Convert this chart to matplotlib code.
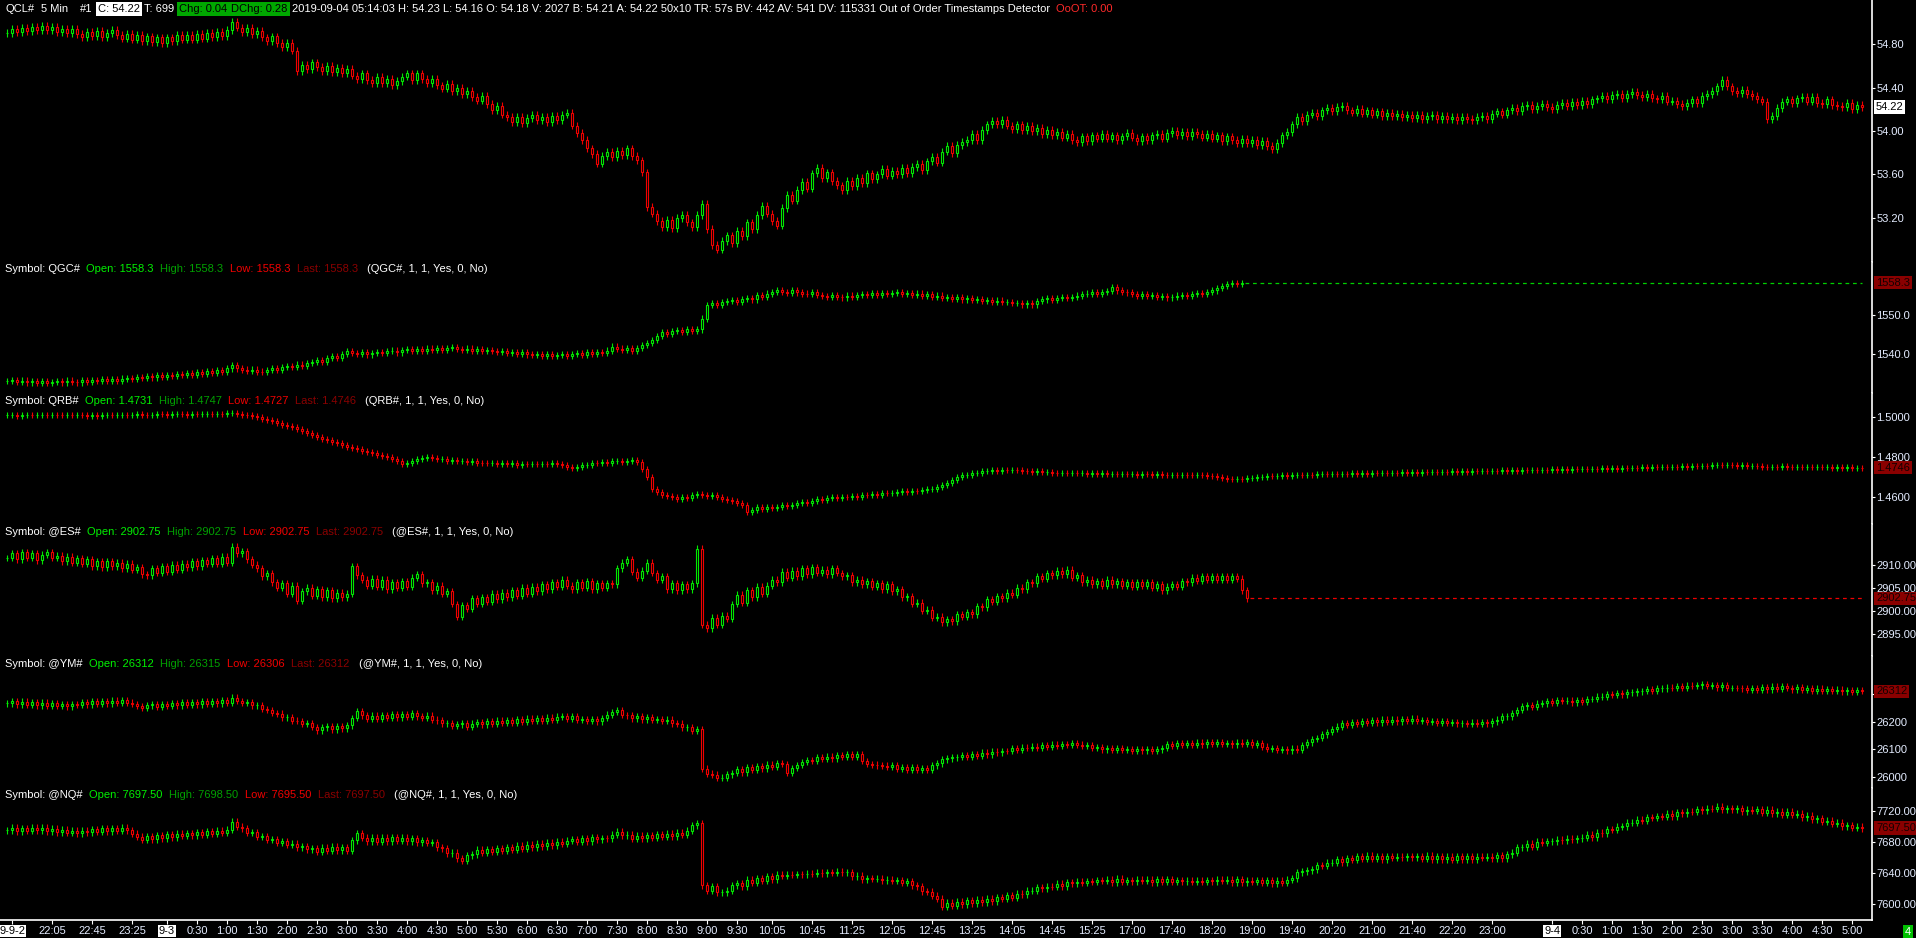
import matplotlib
matplotlib.use('Agg')
import matplotlib.pyplot as plt
import numpy as np

plt.rcParams['font.family'] = ['Liberation Sans Narrow', 'Liberation Sans', 'DejaVu Sans']

W, H = 1916, 938
UP = '#00e800'
DOWN = '#f00000'
LABEL_C = '#e4ecff'
PLOT_RIGHT = 1871.5
FS = 8

# ---- 5 min closes, bar 0 = 9-2 21:20 ----
cl_close = [
    54.90, 54.94, 54.91, 54.95, 54.92, 54.96, 54.93, 54.97, 54.93, 54.96, 54.91, 54.94,
    54.90, 54.94, 54.89, 54.86, 54.91, 54.87, 54.92, 54.86, 54.90, 54.93, 54.88, 54.85,
    54.89, 54.84, 54.88, 54.83, 54.87, 54.82, 54.86, 54.81, 54.86, 54.83, 54.88, 54.84,
    54.88, 54.84, 54.89, 54.85, 54.90, 54.86, 54.91, 54.87, 54.93, 55.00, 54.95, 54.91,
    54.95, 54.89, 54.92, 54.86, 54.83, 54.87, 54.81, 54.77, 54.81, 54.74, 54.55, 54.61,
    54.57, 54.63, 54.59, 54.55, 54.60, 54.54, 54.58, 54.53, 54.57, 54.51, 54.48, 54.53,
    54.47, 54.44, 54.50, 54.44, 54.48, 54.42, 54.46, 54.50, 54.53, 54.47, 54.53, 54.48,
    54.44, 54.48, 54.42, 54.39, 54.43, 54.37, 54.40, 54.34, 54.37, 54.31, 54.28, 54.32,
    54.25, 54.19, 54.23, 54.15, 54.13, 54.08, 54.13, 54.07, 54.12, 54.15, 54.10, 54.13,
    54.08, 54.14, 54.10, 54.15, 54.17, 54.05, 53.98, 53.92, 53.84, 53.79, 53.70, 53.77,
    53.81, 53.76, 53.82, 53.78, 53.84, 53.77, 53.73, 53.62, 53.30, 53.24, 53.17, 53.12,
    53.18, 53.11, 53.20, 53.23, 53.16, 53.12, 53.23, 53.33, 53.10, 52.95, 52.91, 52.99,
    53.04, 52.97, 53.08, 53.03, 53.16, 53.10, 53.23, 53.31, 53.24, 53.17, 53.13, 53.29,
    53.41, 53.36, 53.46, 53.53, 53.47, 53.61, 53.66, 53.57, 53.62, 53.54, 53.50, 53.46,
    53.54, 53.49, 53.57, 53.52, 53.61, 53.56, 53.60, 53.65, 53.59, 53.63, 53.60, 53.66,
    53.61, 53.67, 53.70, 53.64, 53.72, 53.76, 53.71, 53.81, 53.86, 53.80, 53.87, 53.90,
    53.92, 53.97, 53.92, 54.01, 54.06, 54.09, 54.06, 54.10, 54.05, 54.02, 54.06, 54.01,
    54.05, 54.00, 54.03, 53.97, 54.01, 53.96, 53.99, 53.94, 53.97, 53.92, 53.90, 53.95,
    53.91, 53.96, 53.93, 53.97, 53.93, 53.96, 53.92, 53.95, 53.98, 53.94, 53.91, 53.95,
    53.92, 53.96, 53.97, 53.93, 53.98, 54.00, 53.96, 53.99, 53.95, 53.99, 53.97, 53.94,
    53.97, 53.93, 53.96, 53.91, 53.95, 53.92, 53.89, 53.93, 53.89, 53.92, 53.87, 53.91,
    53.86, 53.83, 53.89, 53.96, 53.99, 54.06, 54.13, 54.09, 54.15, 54.17, 54.14, 54.19,
    54.21, 54.18, 54.22, 54.23, 54.19, 54.17, 54.20, 54.16, 54.19, 54.15, 54.18, 54.14,
    54.17, 54.14, 54.16, 54.13, 54.15, 54.12, 54.15, 54.11, 54.14, 54.15, 54.11, 54.14,
    54.11, 54.13, 54.10, 54.13, 54.11, 54.10, 54.13, 54.14, 54.11, 54.16, 54.18, 54.15,
    54.19, 54.21, 54.18, 54.23, 54.24, 54.20, 54.23, 54.25, 54.22, 54.20, 54.24, 54.26,
    54.23, 54.27, 54.24, 54.28, 54.25, 54.29, 54.30, 54.32, 54.29, 54.33, 54.34, 54.30,
    54.34, 54.36, 54.33, 54.31, 54.34, 54.30, 54.29, 54.32, 54.27, 54.28, 54.25, 54.23,
    54.26, 54.29, 54.26, 54.32, 54.34, 54.37, 54.41, 54.47, 54.41, 54.37, 54.35, 54.38,
    54.34, 54.32, 54.29, 54.27, 54.11, 54.14, 54.21, 54.27, 54.29, 54.26, 54.30, 54.31,
    54.27, 54.31, 54.26, 54.25, 54.29, 54.24, 54.23, 54.22, 54.26, 54.20, 54.24, 54.22,
]

gc_close = [
    1533.0, 1533.3, 1532.8, 1533.2, 1532.7, 1533.1, 1532.6, 1533.0, 1532.5, 1532.9, 1533.1, 1532.7,
    1533.2, 1532.8, 1532.7, 1533.3, 1532.9, 1533.4, 1533.0, 1533.5, 1533.1, 1533.6, 1533.2, 1533.7,
    1533.9, 1533.5, 1534.1, 1533.8, 1534.3, 1534.0, 1534.6, 1534.2, 1534.7, 1534.3, 1534.9, 1534.6,
    1535.1, 1534.7, 1535.3, 1535.0, 1535.6, 1535.2, 1535.9, 1535.5, 1536.3, 1537.1, 1536.3, 1536.0,
    1535.6, 1536.0, 1535.5, 1535.3, 1535.9, 1536.3, 1535.9, 1536.6, 1537.0, 1536.6, 1537.3, 1536.9,
    1537.6, 1538.0, 1538.4, 1538.0, 1538.9, 1539.4, 1539.0, 1540.1, 1540.7, 1540.3, 1540.0, 1540.4,
    1539.9, 1540.3, 1540.6, 1540.2, 1540.7, 1540.9, 1540.4, 1541.0, 1541.2, 1540.8, 1541.3, 1540.9,
    1541.4, 1541.0, 1541.5, 1541.1, 1541.6, 1541.7, 1541.3, 1541.1, 1541.4, 1540.9, 1541.3, 1540.8,
    1541.1, 1540.7, 1540.5, 1540.8, 1540.3, 1540.6, 1540.1, 1540.4, 1539.9, 1539.7, 1540.1, 1539.6,
    1539.9, 1539.5, 1539.7, 1540.0, 1539.6, 1540.1, 1540.3, 1539.8, 1540.4, 1540.0, 1540.6, 1540.3,
    1540.9, 1541.9, 1541.4, 1541.1, 1541.5, 1540.9, 1541.6, 1542.3, 1542.9, 1543.6, 1544.7, 1545.6,
    1545.1, 1546.0, 1546.1, 1545.6, 1546.4, 1545.9, 1546.3, 1549.1, 1552.5, 1553.0, 1552.5, 1553.3,
    1553.6, 1553.9, 1553.3, 1554.1, 1554.4, 1554.0, 1555.1, 1554.6, 1555.5, 1556.0, 1556.5, 1556.0,
    1555.7, 1556.3, 1555.8, 1555.5, 1555.4, 1555.9, 1555.1, 1554.9, 1554.7, 1555.2, 1554.6, 1554.5,
    1555.0, 1554.6, 1555.1, 1555.4, 1555.1, 1555.6, 1555.2, 1555.7, 1555.3, 1555.6, 1555.8, 1555.3,
    1555.6, 1555.2, 1555.5, 1554.9, 1555.3, 1554.7, 1555.0, 1554.3, 1554.7, 1554.2, 1554.6, 1554.0,
    1554.3, 1553.8, 1554.1, 1553.6, 1553.9, 1553.4, 1553.7, 1553.3, 1553.4, 1553.0, 1553.1, 1552.7,
    1553.1, 1552.7, 1553.6, 1554.0, 1554.3, 1553.9, 1554.4, 1554.6, 1554.3, 1554.7, 1555.0, 1555.3,
    1555.5, 1555.8, 1555.5, 1556.0, 1556.1, 1557.1, 1556.3, 1555.9, 1555.8, 1555.3, 1554.9, 1555.3,
    1554.8, 1555.1, 1554.6, 1554.9, 1554.5, 1554.7, 1555.0, 1555.2, 1554.9, 1555.4, 1555.6, 1555.3,
    1555.9, 1556.3, 1557.0, 1557.5, 1557.9, 1558.2, 1557.9, 1558.3,
]

rb_close = [
    1.5008, 1.5010, 1.5007, 1.5009, 1.5011, 1.5008, 1.5010, 1.5012, 1.5009, 1.5011, 1.5010, 1.5008,
    1.5010, 1.5009, 1.5011, 1.5008, 1.5007, 1.5009, 1.5006, 1.5008, 1.5010, 1.5009, 1.5011, 1.5012,
    1.5010, 1.5011, 1.5013, 1.5012, 1.5010, 1.5012, 1.5014, 1.5013, 1.5011, 1.5013, 1.5015, 1.5014,
    1.5012, 1.5014, 1.5013, 1.5015, 1.5016, 1.5014, 1.5017, 1.5016, 1.5018, 1.5019, 1.5015, 1.5012,
    1.5008, 1.5004, 1.5000, 1.4990, 1.4985, 1.4978, 1.4970, 1.4960, 1.4955, 1.4948, 1.4940, 1.4932,
    1.4920, 1.4912, 1.4900, 1.4892, 1.4885, 1.4875, 1.4868, 1.4862, 1.4850, 1.4845, 1.4838, 1.4830,
    1.4825, 1.4818, 1.4810, 1.4805, 1.4798, 1.4790, 1.4780, 1.4765, 1.4772, 1.4780, 1.4790, 1.4795,
    1.4800, 1.4793, 1.4788, 1.4790, 1.4782, 1.4785, 1.4778, 1.4780, 1.4775, 1.4778, 1.4772, 1.4770,
    1.4768, 1.4772, 1.4766, 1.4770, 1.4765, 1.4768, 1.4762, 1.4766, 1.4764, 1.4767, 1.4763, 1.4766,
    1.4764, 1.4768, 1.4765, 1.4758, 1.4750, 1.4745, 1.4752, 1.4758, 1.4762, 1.4770, 1.4768, 1.4775,
    1.4772, 1.4778, 1.4780, 1.4776, 1.4782, 1.4785, 1.4775, 1.4740, 1.4700, 1.4640, 1.4625, 1.4610,
    1.4605, 1.4598, 1.4592, 1.4600, 1.4596, 1.4608, 1.4615, 1.4610, 1.4604, 1.4612, 1.4600, 1.4592,
    1.4585, 1.4578, 1.4570, 1.4560, 1.4525, 1.4535, 1.4548, 1.4540, 1.4552, 1.4545, 1.4550, 1.4558,
    1.4555, 1.4560, 1.4568, 1.4575, 1.4570, 1.4582, 1.4588, 1.4585, 1.4595, 1.4600, 1.4596, 1.4602,
    1.4598, 1.4605, 1.4602, 1.4610, 1.4608, 1.4615, 1.4612, 1.4620, 1.4618, 1.4622, 1.4625, 1.4628,
    1.4626, 1.4632, 1.4630, 1.4636, 1.4638, 1.4640, 1.4648, 1.4660, 1.4672, 1.4685, 1.4700, 1.4708,
    1.4712, 1.4718, 1.4722, 1.4728, 1.4730, 1.4734, 1.4732, 1.4736, 1.4733, 1.4737, 1.4735, 1.4732,
    1.4730, 1.4727, 1.4729, 1.4725, 1.4726, 1.4722, 1.4720, 1.4722, 1.4719, 1.4721, 1.4718, 1.4720,
    1.4717, 1.4719, 1.4716, 1.4718, 1.4715, 1.4717, 1.4714, 1.4716, 1.4713, 1.4715, 1.4712, 1.4714,
    1.4713, 1.4711, 1.4714, 1.4712, 1.4710, 1.4712, 1.4709, 1.4711, 1.4710, 1.4708, 1.4710, 1.4709,
    1.4707, 1.4705, 1.4700, 1.4695, 1.4690, 1.4688, 1.4692, 1.4690, 1.4694, 1.4697, 1.4700, 1.4702,
    1.4705, 1.4703, 1.4706, 1.4708, 1.4706, 1.4709, 1.4711, 1.4710, 1.4712, 1.4710, 1.4713, 1.4715,
    1.4713, 1.4716, 1.4714, 1.4717, 1.4715, 1.4718, 1.4716, 1.4719, 1.4717, 1.4720, 1.4718, 1.4721,
    1.4719, 1.4722, 1.4720, 1.4723, 1.4721, 1.4724, 1.4722, 1.4725, 1.4723, 1.4726, 1.4724, 1.4727,
    1.4725, 1.4728, 1.4726, 1.4729, 1.4727, 1.4730, 1.4728, 1.4731, 1.4729, 1.4732, 1.4730, 1.4733,
    1.4731, 1.4734, 1.4732, 1.4735, 1.4733, 1.4736, 1.4734, 1.4737, 1.4735, 1.4738, 1.4736, 1.4739,
    1.4737, 1.4740, 1.4738, 1.4741, 1.4739, 1.4742, 1.4740, 1.4743, 1.4741, 1.4744, 1.4742, 1.4745,
    1.4743, 1.4746, 1.4744, 1.4748, 1.4746, 1.4750, 1.4748, 1.4751, 1.4749, 1.4752, 1.4750, 1.4753,
    1.4751, 1.4755, 1.4753, 1.4757, 1.4755, 1.4758, 1.4760, 1.4758, 1.4762, 1.4759, 1.4756, 1.4758,
    1.4755, 1.4757, 1.4753, 1.4750, 1.4748, 1.4752, 1.4750, 1.4753, 1.4751, 1.4749, 1.4752, 1.4750,
    1.4752, 1.4749, 1.4751, 1.4748, 1.4750, 1.4747, 1.4749, 1.4746, 1.4748, 1.4745, 1.4747, 1.4746,
]

es_close = [
    2911.50, 2912.50, 2911.25, 2912.75, 2911.50, 2912.50, 2911.00, 2912.25, 2912.75, 2911.50, 2912.00, 2910.75,
    2911.75, 2910.50, 2911.50, 2910.25, 2911.25, 2909.75, 2910.75, 2909.50, 2910.75, 2909.75, 2910.50, 2909.25,
    2910.25, 2909.00, 2909.50, 2908.00, 2907.75, 2909.25, 2908.25, 2909.75, 2908.50, 2910.00, 2909.00, 2910.25,
    2909.50, 2910.75, 2909.75, 2911.00, 2910.25, 2911.50, 2910.25, 2911.75, 2910.50, 2914.00, 2912.50, 2913.00,
    2911.25, 2910.00, 2909.25, 2907.50, 2908.25, 2906.25, 2905.00, 2906.00, 2903.75, 2905.50, 2902.25, 2904.25,
    2905.00, 2903.25, 2904.75, 2903.00, 2904.50, 2902.75, 2904.00, 2903.00, 2903.75, 2909.75, 2907.75, 2906.75,
    2905.50, 2907.00, 2905.25, 2906.75, 2904.75, 2906.25, 2905.00, 2906.50, 2905.25, 2907.25, 2908.00, 2906.00,
    2906.25, 2904.50, 2905.50, 2903.75, 2904.25, 2901.50, 2898.75, 2901.25, 2900.50, 2902.75, 2901.50, 2903.00,
    2902.00, 2903.75, 2902.50, 2904.00, 2903.00, 2904.50, 2903.25, 2905.00, 2903.75, 2905.25, 2904.25, 2905.75,
    2904.75, 2906.25, 2905.25, 2906.75, 2905.50, 2904.75, 2906.25, 2905.00, 2906.50, 2904.75, 2906.00, 2905.00,
    2906.00, 2905.75, 2909.25, 2910.50, 2911.25, 2908.50, 2907.25, 2908.75, 2910.50, 2908.25, 2906.75, 2907.50,
    2904.75, 2906.00, 2904.50, 2905.75, 2904.75, 2906.00, 2913.50, 2897.00, 2896.25, 2898.50, 2897.00, 2899.00,
    2898.25, 2901.50, 2903.50, 2901.75, 2904.50, 2903.00, 2905.25, 2903.75, 2905.50, 2906.75, 2906.25, 2908.50,
    2907.25, 2908.75, 2907.50, 2909.25, 2908.00, 2909.50, 2908.25, 2909.00, 2908.00, 2909.25, 2908.25, 2907.50,
    2907.75, 2906.25, 2906.75, 2905.75, 2906.50, 2905.25, 2906.00, 2904.75, 2905.75, 2904.25, 2904.75, 2903.00,
    2903.25, 2901.50, 2901.75, 2900.00, 2900.25, 2898.50, 2898.75, 2897.50, 2898.25, 2897.75, 2899.25, 2898.75,
    2899.75, 2899.25, 2901.00, 2900.75, 2902.50, 2902.00, 2903.25, 2902.75, 2904.00, 2903.50, 2905.00, 2904.75,
    2906.25, 2906.00, 2907.50, 2907.00, 2908.25, 2907.75, 2908.75, 2908.00, 2909.00, 2907.25, 2907.75, 2906.25,
    2906.75, 2905.75, 2906.50, 2905.50, 2906.75, 2905.75, 2906.50, 2905.50, 2906.25, 2905.25, 2906.25, 2905.50,
    2906.25, 2905.00, 2905.75, 2904.50, 2905.25, 2905.75, 2905.25, 2906.50, 2906.25, 2907.25, 2906.50, 2907.50,
    2906.75, 2907.50, 2906.75, 2907.50, 2906.75, 2907.50, 2907.00, 2904.50, 2902.75,
]

ym_close = [
    26268, 26276, 26264, 26274, 26262, 26272, 26260, 26270, 26259, 26268, 26258, 26266,
    26257, 26266, 26262, 26272, 26264, 26275, 26266, 26277, 26268, 26278, 26269, 26279,
    26270, 26266, 26258, 26252, 26260, 26265, 26256, 26266, 26258, 26269, 26260, 26271,
    26262, 26273, 26264, 26275, 26266, 26277, 26268, 26279, 26270, 26288, 26276, 26270,
    26272, 26260, 26262, 26247, 26244, 26232, 26230, 26217, 26218, 26205, 26203, 26192,
    26196, 26182, 26170, 26180, 26184, 26173, 26186, 26177, 26188, 26214, 26240, 26224,
    26212, 26223, 26211, 26225, 26215, 26228, 26217, 26229, 26218, 26231, 26221, 26215,
    26223, 26209, 26206, 26195, 26197, 26186, 26191, 26196, 26182, 26194, 26200, 26191,
    26202, 26193, 26205, 26196, 26207, 26198, 26210, 26201, 26212, 26203, 26214, 26205,
    26216, 26207, 26219, 26222, 26212, 26220, 26209, 26211, 26203, 26210, 26202, 26214,
    26227, 26236, 26242, 26226, 26224, 26213, 26220, 26210, 26218, 26207, 26211, 26203,
    26208, 26195, 26194, 26181, 26182, 26168, 26175, 26030, 26012, 26008, 25996, 25998,
    26010, 26015, 26028, 26017, 26035, 26025, 26040, 26031, 26045, 26037, 26051, 26047,
    26016, 26033, 26043, 26055, 26062, 26058, 26071, 26066, 26074, 26068, 26079, 26072,
    26084, 26073, 26082, 26058, 26047, 26045, 26042, 26041, 26038, 26043, 26030, 26037,
    26027, 26035, 26025, 26033, 26026, 26042, 26050, 26064, 26068, 26071, 26072, 26080,
    26073, 26084, 26078, 26088, 26082, 26092, 26090, 26095, 26094, 26104, 26098, 26107,
    26105, 26110, 26107, 26116, 26109, 26118, 26114, 26119, 26116, 26123, 26118, 26114,
    26115, 26106, 26108, 26101, 26105, 26099, 26104, 26098, 26102, 26096, 26101, 26097,
    26100, 26095, 26101, 26106, 26120, 26113, 26122, 26116, 26124, 26118, 26125, 26119,
    26126, 26120, 26127, 26121, 26124, 26119, 26125, 26120, 26126, 26118, 26124, 26110,
    26102, 26106, 26098, 26101, 26097, 26103, 26098, 26116, 26126, 26138, 26142, 26155,
    26163, 26175, 26183, 26197, 26190, 26200, 26194, 26204, 26197, 26206, 26199, 26208,
    26201, 26209, 26202, 26210, 26204, 26212, 26205, 26207, 26201, 26203, 26196, 26203,
    26197, 26199, 26195, 26197, 26193, 26198, 26194, 26200, 26195, 26202, 26208, 26220,
    26220, 26233, 26243, 26257, 26260, 26256, 26267, 26268, 26277, 26270, 26280, 26278,
    26278, 26271, 26280, 26273, 26284, 26284, 26292, 26292, 26300, 26298, 26306, 26300,
    26308, 26308, 26311, 26312, 26320, 26314, 26322, 26322, 26325, 26324, 26330, 26323,
    26332, 26331, 26333, 26338, 26332, 26333, 26326, 26334, 26324, 26324, 26323, 26322,
    26316, 26324, 26317, 26326, 26319, 26328, 26321, 26330, 26323, 26319, 26326, 26316,
    26322, 26314, 26321, 26313, 26320, 26312, 26318, 26311, 26317, 26309, 26316, 26312,
]

nq_close = [
    7695.00, 7698.25, 7693.75, 7697.50, 7694.25, 7698.00, 7694.50, 7697.75, 7693.25, 7696.50, 7692.50, 7695.75,
    7691.50, 7694.25, 7690.75, 7694.00, 7692.25, 7696.00, 7693.00, 7697.25, 7693.75, 7697.50, 7694.25, 7698.00,
    7694.50, 7690.25, 7686.50, 7682.75, 7687.00, 7683.50, 7688.25, 7684.75, 7689.50, 7686.00, 7690.50, 7687.75,
    7691.25, 7688.50, 7692.25, 7689.00, 7693.25, 7690.50, 7694.00, 7691.50, 7695.25, 7706.00, 7699.50, 7697.25,
    7691.75, 7692.00, 7686.75, 7687.25, 7682.50, 7683.00, 7678.75, 7680.50, 7676.00, 7677.75, 7673.25, 7674.50,
    7670.75, 7672.00, 7667.50, 7672.25, 7668.25, 7673.50, 7669.25, 7673.25, 7668.75, 7682.00, 7691.00, 7685.25,
    7680.75, 7685.00, 7680.25, 7685.25, 7681.00, 7685.75, 7681.25, 7685.50, 7680.50, 7684.50, 7679.75, 7682.25,
    7678.50, 7679.25, 7672.75, 7671.50, 7665.00, 7666.25, 7659.00, 7655.50, 7662.75, 7664.00, 7669.50, 7666.00,
    7670.75, 7667.25, 7672.00, 7668.50, 7673.25, 7670.00, 7674.75, 7671.25, 7676.25, 7673.00, 7677.75, 7674.50,
    7679.00, 7675.75, 7680.25, 7677.50, 7681.25, 7683.50, 7680.00, 7684.75, 7681.00, 7686.00, 7683.00, 7684.50,
    7684.25, 7689.25, 7693.00, 7688.50, 7688.75, 7684.00, 7688.00, 7684.50, 7688.50, 7685.00, 7689.75, 7686.50,
    7690.25, 7687.00, 7691.75, 7689.00, 7694.00, 7701.50, 7703.50, 7624.00, 7617.50, 7623.25, 7615.25, 7615.50,
    7617.25, 7624.00, 7626.75, 7623.00, 7631.25, 7627.25, 7633.50, 7629.75, 7635.75, 7632.00, 7638.00, 7636.50,
    7637.75, 7637.50, 7638.50, 7638.25, 7639.25, 7639.00, 7640.25, 7639.75, 7641.00, 7640.00, 7641.75, 7640.75,
    7641.25, 7636.00, 7636.25, 7632.25, 7633.00, 7632.50, 7632.75, 7631.00, 7631.25, 7630.25, 7630.50, 7627.25,
    7629.25, 7624.00, 7622.75, 7616.75, 7616.00, 7610.75, 7607.00, 7596.75, 7601.50, 7597.75, 7603.25, 7600.00,
    7604.75, 7601.50, 7605.50, 7602.25, 7607.25, 7604.00, 7608.75, 7607.00, 7611.25, 7608.25, 7613.25, 7613.00,
    7617.25, 7617.25, 7621.50, 7620.75, 7622.50, 7622.25, 7626.25, 7623.00, 7628.00, 7626.75, 7628.50, 7627.75,
    7629.50, 7628.75, 7630.50, 7629.75, 7631.50, 7628.25, 7632.50, 7628.75, 7630.50, 7629.25, 7631.00, 7629.75,
    7631.50, 7628.25, 7632.00, 7628.50, 7632.25, 7629.00, 7630.75, 7629.50, 7630.25, 7629.00, 7630.00, 7628.75,
    7630.50, 7629.25, 7631.00, 7630.00, 7631.25, 7628.25, 7631.75, 7628.25, 7630.00, 7628.75, 7630.50, 7627.25,
    7630.75, 7627.00, 7630.25, 7627.25, 7631.25, 7633.50, 7641.25, 7642.25, 7643.50, 7644.75, 7650.00, 7649.25,
    7653.25, 7653.25, 7657.50, 7653.75, 7659.00, 7657.25, 7661.25, 7658.00, 7662.25, 7658.50, 7661.75, 7657.75,
    7661.50, 7659.75, 7660.75, 7660.00, 7661.25, 7660.25, 7661.50, 7658.25, 7662.00, 7657.75, 7661.50, 7657.50,
    7660.75, 7657.00, 7661.25, 7657.75, 7661.50, 7657.50, 7660.75, 7659.25, 7660.50, 7658.75, 7662.50, 7659.00,
    7663.75, 7666.00, 7673.25, 7673.25, 7677.50, 7673.75, 7679.75, 7678.50, 7680.50, 7680.75, 7682.50, 7682.25,
    7684.00, 7683.25, 7684.25, 7685.00, 7689.25, 7686.00, 7691.75, 7690.75, 7696.00, 7695.25, 7699.25, 7700.00,
    7704.25, 7704.25, 7708.50, 7706.75, 7711.75, 7710.75, 7712.50, 7712.25, 7716.25, 7713.00, 7717.75, 7716.75,
    7718.50, 7718.25, 7722.00, 7720.75, 7722.50, 7722.25, 7725.25, 7721.50, 7722.75, 7721.75, 7723.00, 7719.25,
    7721.00, 7719.75, 7721.50, 7717.25, 7721.00, 7716.75, 7718.50, 7714.75, 7718.75, 7714.50, 7715.75, 7711.75,
    7713.50, 7709.25, 7710.25, 7706.00, 7707.25, 7703.25, 7704.25, 7700.00, 7701.25, 7697.75, 7699.25, 7697.50,
]

# right axis ticks
cl_ticks = [53.20, 53.60, 54.00, 54.40, 54.80]
cl_tick_labels = ['53.20', '53.60', '54.00', '54.40', '54.80']
gc_ticks = [1540.0, 1550.0]
gc_tick_labels = ['1540.0', '1550.0']
rb_ticks = [1.46, 1.48, 1.50]
rb_tick_labels = ['1.4600', '1.4800', '1.5000']
es_ticks = [2895, 2900, 2905, 2910]
es_tick_labels = ['2895.00', '2900.00', '2905.00', '2910.00']
ym_ticks = [26000, 26100, 26200, 26300]
ym_tick_labels = ['26000', '26100', '26200', '26300']
nq_ticks = [7600, 7640, 7680, 7720]
nq_tick_labels = ['7600.00', '7640.00', '7680.00', '7720.00']

# x axis: bar index and label
x_ticks = [1, 9, 17, 25, 32, 38, 44, 50, 56, 62, 68, 74, 80, 86, 92, 98, 104, 110, 116, 122,
           128, 134, 140, 146, 153, 161, 169, 177, 185, 193, 201, 209, 217, 225, 233, 241, 249,
           257, 265, 273, 281, 289, 297, 309, 315, 321, 327, 333, 339, 345, 351, 357, 363, 369]
x_labels = ['9-9-2', '22:05', '22:45', '23:25', '9-3', '0:30', '1:00', '1:30', '2:00', '2:30',
            '3:00', '3:30', '4:00', '4:30', '5:00', '5:30', '6:00', '6:30', '7:00', '7:30',
            '8:00', '8:30', '9:00', '9:30', '10:05', '10:45', '11:25', '12:05', '12:45', '13:25',
            '14:05', '14:45', '15:25', '17:00', '17:40', '18:20', '19:00', '19:40', '20:20',
            '21:00', '21:40', '22:20', '23:00', '9-4', '0:30', '1:00', '1:30', '2:00', '2:30',
            '3:00', '3:30', '4:00', '4:30', '5:00']
date_labels = ['9-9-2', '9-3', '9-4']

fig = plt.figure(figsize=(W / 100, H / 100), dpi=100, facecolor='black')


def add_panel(top, bottom, ylim):
    ax = fig.add_axes([0, 1 - bottom / H, PLOT_RIGHT / W, (bottom - top) / H])
    ax.set_facecolor('black')
    for s in ('top', 'left', 'bottom'):
        ax.spines[s].set_visible(False)
    ax.spines['right'].set_color('white')
    ax.spines['right'].set_linewidth(1.2)
    ax.set_xlim(-1.4, (PLOT_RIGHT - 7) / 5)
    ax.set_ylim(*ylim)
    ax.yaxis.tick_right()
    ax.tick_params(axis='y', colors='white', labelcolor=LABEL_C, length=2.5, width=0.8,
                   direction='out', labelsize=FS, pad=1)
    ax.tick_params(axis='x', bottom=False, labelbottom=False)
    return ax


def candles(ax, close, wick):
    c = np.asarray(close, float)
    o = np.r_[c[0], c[:-1]]
    x = np.arange(len(c))
    col = np.where(c >= o, UP, DOWN)
    hi = np.maximum(o, c)
    lo = np.minimum(o, c)
    ax.vlines(x, lo - wick, hi + wick, colors=col, lw=0.8, zorder=2)
    ax.bar(x, hi - lo, bottom=lo, width=0.5, color='black', edgecolor=col,
           linewidth=0.8, zorder=3)


def last_box(ax, value, text, fc, tc):
    ax.annotate(text, xy=(1, value), xycoords=('axes fraction', 'data'),
                xytext=(4.5, 0), textcoords='offset pixels', ha='left', va='center',
                fontsize=FS, color=tc, annotation_clip=False, zorder=10,
                bbox=dict(boxstyle='square,pad=0.15', fc=fc, ec='none'))


panels = [
    (0, 262, (52.7954, 55.2046), cl_close, 0.035, cl_ticks, cl_tick_labels),
    (262, 393, (1530.0, 1563.6), gc_close, 0.8, gc_ticks, gc_tick_labels),
    (393, 524, (1.4465, 1.512), rb_close, 0.0015, rb_ticks, rb_tick_labels),
    (524, 656, (2890.2, 2918.9), es_close, 0.75, es_ticks, es_tick_labels),
    (656, 788, (25960, 26440), ym_close, 12, ym_ticks, ym_tick_labels),
    (788, 920, (7579.7, 7749.0), nq_close, 4.5, nq_ticks, nq_tick_labels),
]
axes = []
for top, bottom, ylim, close, wick, ticks, labels in panels:
    ax = add_panel(top, bottom, ylim)
    candles(ax, close, wick)
    ax.set_yticks(ticks)
    ax.set_yticklabels(labels)
    axes.append(ax)

ax_cl, ax_gc, ax_rb, ax_es, ax_ym, ax_nq = axes

# data stops early for gold and ES, last price carried as dashed line
ax_gc.hlines(gc_close[-1], len(gc_close) - 0.4, 371.0, colors='#00d000', lw=0.9,
             linestyles=(0, (3, 3)))
ax_es.hlines(es_close[-1], len(es_close) - 0.4, 371.0, colors='#f00000', lw=0.9,
             linestyles=(0, (3, 3)))

last_box(ax_cl, 54.22, '54.22', 'white', 'black')
last_box(ax_gc, 1558.3, '1558.3', '#8a0000', '#140000')
last_box(ax_rb, 1.4746, '1.4746', '#8a0000', '#140000')
last_box(ax_es, 2902.75, '2902.75', '#8a0000', '#140000')
last_box(ax_ym, 26312, '26312', '#8a0000', '#140000')
last_box(ax_nq, 7697.50, '7697.50', '#8a0000', '#140000')

# time axis on the bottom panel
ax_nq.spines['bottom'].set_visible(True)
ax_nq.spines['bottom'].set_color('white')
ax_nq.spines['bottom'].set_linewidth(1.2)
ax_nq.set_xticks(x_ticks)
ax_nq.set_xticklabels(x_labels)
ax_nq.tick_params(axis='x', bottom=True, labelbottom=True, colors='white', labelcolor=LABEL_C,
                  length=3, width=0.8, labelsize=FS, pad=1.5)
for lab in ax_nq.get_xticklabels():
    if lab.get_text() in date_labels:
        lab.set_color('black')
        lab.set_bbox(dict(boxstyle='square,pad=0.1', fc='white', ec='none'))

fig.text(1905 / W, 1 - 932 / H, '4', color='white', fontsize=FS, ha='left', va='center',
         bbox=dict(boxstyle='square,pad=0.2', fc='#00c000', ec='none'))

renderer = fig.canvas.get_renderer()

# top status line: (text, min x, colour, box colour, gap after)
status = [
    ('QCL#', 6, 'white', None, 6),
    ('5 Min', 41, 'white', None, 6),
    ('#1', 80, 'white', None, 5),
    ('C: 54.22', 98, 'black', 'white', 4),
    ('T: 699', 142, 'white', None, 5),
    ('Chg: 0.04', 175, 'black', '#00a800', 4),
    ('DChg: 0.28', 226, 'black', '#00a800', 4),
    ('2019-09-04 05:14:03 H: 54.23 L: 54.16 O: 54.18 V: 2027 B: 54.21 A: 54.22 50x10 TR: 57s '
     'BV: 442 AV: 541 DV: 115331 Out of Order Timestamps Detector', 287, 'white', None, 6),
    ('OoOT: 0.00', 1055, '#ff2a2a', None, 0),
]
x = 0
for s, min_x, c, bg, gap in status:
    x = max(x, min_x)
    kw = {}
    if bg:
        kw['bbox'] = dict(boxstyle='square,pad=0.2', fc=bg, ec='none')
    t = fig.text(x / W, 1 - 9 / H, s, color=c, fontsize=FS, ha='left', va='center',
                 zorder=10, **kw)
    x += t.get_window_extent(renderer=renderer).width + gap

# study headers for each symbol
study_rows = [
    (269, 'QGC#', '1558.3', '1558.3', '1558.3', '1558.3'),
    (401, 'QRB#', '1.4731', '1.4747', '1.4727', '1.4746'),
    (532, '@ES#', '2902.75', '2902.75', '2902.75', '2902.75'),
    (664, '@YM#', '26312', '26315', '26306', '26312'),
    (795, '@NQ#', '7697.50', '7698.50', '7695.50', '7697.50'),
]
for y, sym, o, h, l, last in study_rows:
    parts = [('Symbol: ' + sym, 'white', 6.5), ('Open: ' + o, '#00f000', 6.5),
             ('High: ' + h, '#00a000', 6.5), ('Low: ' + l, '#f00000', 6.5),
             ('Last: ' + last, '#8a0000', 9), ('(%s, 1, 1, Yes, 0, No)' % sym, 'white', 0)]
    x = 5
    for s, c, gap in parts:
        t = fig.text(x / W, 1 - y / H, s, color=c, fontsize=FS, ha='left', va='center', zorder=10)
        x += t.get_window_extent(renderer=renderer).width + gap

fig.savefig('out.png', dpi=100, facecolor='black')
